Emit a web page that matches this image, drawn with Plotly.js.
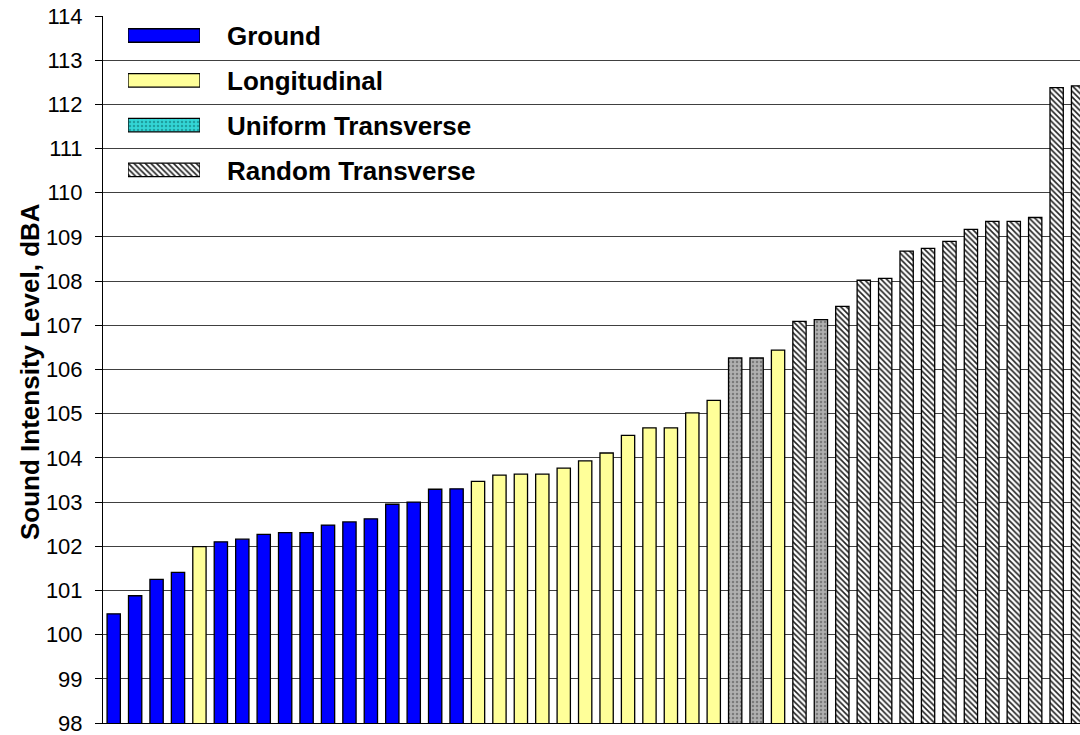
<!DOCTYPE html>
<html>
<head>
<meta charset="utf-8">
<script src="https://cdn.plot.ly/plotly-3.0.1.min.js"></script>
<style>
  html, body { margin: 0; padding: 0; background: #ffffff; }
  #chart { width: 1080px; height: 735px; }
</style>
</head>
<body>
<div id="chart"></div>
<script>
// ---- data (sorted ascending) ----
const runIds = ["1","2","3","4","5","6","7","8","9","10","11","12","13","14","15","16",
  "17","18","19","20","21","22","23","24","25","26","27","28","29","30","31","32",
  "33","34","35","36","37","38","39","40","41","42","43","44","45","46"];
const levels = [100.47, 100.88, 101.25, 101.41, 101.99, 102.10, 102.16, 102.27, 102.31, 102.31,
  102.48, 102.55, 102.62, 102.95, 103.00, 103.29, 103.30, 103.47, 103.61, 103.63,
  103.63, 103.77, 103.93, 104.11, 104.51, 104.68, 104.68, 105.02, 105.30, 106.26,
  106.26, 106.44, 107.09, 107.13, 107.43, 108.02, 108.06, 108.68, 108.74, 108.90,
  109.17, 109.35, 109.35, 109.44, 112.38, 112.42];
const configs = ["G","G","G","G","L","G","G","G","G","G","G","G","G","G","G","G",
  "G","L","L","L","L","L","L","L","L","L","L","L","L","U","U","L",
  "R","U","R","R","R","R","R","R","R","R","R","R","R","R"];
const seriesKeys = ["G", "L", "U", "R"];
const seriesNames = ["Ground", "Longitudinal", "Uniform Transverse", "Random Transverse"];
const yTicks = [98, 99, 100, 101, 102, 103, 104, 105, 106, 107, 108, 109, 110, 111, 112, 113, 114];
const yTitle = "Sound Intensity Level, dBA";
const legendRank = [0, 1, 2, 3];
const legendLen = [1, 1, 1, 1];

// ---- styles ----
const FONT = "Liberation Sans, Arial, Helvetica, sans-serif";
const barStyles = {
  G: { color: "#0000ff" },
  L: { color: "#ffff99" },
  U: { color: "#a6a6a6", pattern: { shape: ".", fgcolor: "#7a7a7a", bgcolor: "#b0b0b0", size: 4, solidity: 0.3 } },
  R: { color: "#ffffff", pattern: { shape: "\\", fgcolor: "#222222", bgcolor: "#ffffff", size: 4, solidity: 0.4 } }
};
const legendStyles = {
  G: barStyles.G,
  L: barStyles.L,
  U: { color: "#33cccc", pattern: { shape: ".", fgcolor: "#1f9f9f", bgcolor: "#33d6d6", size: 4, solidity: 0.3 } },
  R: barStyles.R
};

// ---- geometry (pixels) ----
const W = 1080, H = 735;
const mL = 103, mR = 0, mT = 16, mB = 12;
const plotW = W - mL - mR, plotH = H - mT - mB;
const px2x = p => (p - mL) / plotW;
const py2y = p => (H - mB - p) / plotH;

// ---- main bars ----
const traces = seriesKeys.map((k, si) => {
  const xs = [], ys = [];
  configs.forEach((c, i) => { if (c === k) { xs.push(runIds[i]); ys.push(levels[i]); } });
  const st = barStyles[k];
  const marker = { color: st.color, line: { color: "#000000", width: 1.3 } };
  if (st.pattern) marker.pattern = st.pattern;
  return {
    type: "bar", name: seriesNames[si], x: xs, y: ys, width: 0.62,
    marker: marker, showlegend: false, hoverinfo: "x+y",
    xaxis: "x", yaxis: "y"
  };
});

// ---- legend swatches drawn as bars on an overlay subplot ----
const rowTop = 35.5, rowStep = 44.8;                // pixel centre of first row, spacing
const legDomPix = [16, 230];                          // pixel top / bottom of legend subplot
const legRange = [(legDomPix[1] - rowTop) / rowStep, (legDomPix[0] - rowTop) / rowStep];
seriesKeys.forEach((k, si) => {
  const st = legendStyles[k];
  const marker = { color: st.color, line: { color: "#000000", width: 1.3 } };
  if (st.pattern) marker.pattern = st.pattern;
  traces.push({
    type: "bar", orientation: "h", x: [legendLen[si]], y: [legendRank[si]], width: 13.5 / rowStep,
    marker: marker, showlegend: false, hoverinfo: "skip", xaxis: "x2", yaxis: "y2"
  });
});

const annotations = seriesNames.map((nm, si) => ({
  text: "<b>" + nm + "</b>", xref: "paper", yref: "paper",
  x: px2x(225), y: py2y(rowTop + rowStep * legendRank[si] + 1),
  xanchor: "left", yanchor: "middle", showarrow: false,
  font: { family: FONT, size: 26, color: "#000000" }
}));
annotations.push({
  text: "<b>" + yTitle + "</b>", xref: "paper", yref: "paper",
  x: px2x(30), y: py2y(372), xanchor: "center", yanchor: "middle",
  textangle: -90, showarrow: false,
  font: { family: FONT, size: 26, color: "#000000" }
});

const layout = {
  width: W, height: H,
  margin: { l: mL, r: mR, t: mT, b: mB, pad: 0 },
  paper_bgcolor: "#ffffff", plot_bgcolor: "rgba(0,0,0,0)",
  barmode: "overlay",
  showlegend: false,
  font: { family: FONT, color: "#000000" },
  xaxis: {
    type: "category", categoryorder: "array", categoryarray: runIds,
    range: [-0.5, -0.5 + plotW / 21.43],
    showticklabels: false, ticks: "", showgrid: false, zeroline: false,
    showline: true, linecolor: "#000000", linewidth: 1, fixedrange: true
  },
  yaxis: {
    range: [98, 114], tickvals: yTicks, ticktext: yTicks.map(String),
    ticks: "outside", ticklen: 7, tickcolor: "#000000", tickwidth: 1,
    ticklabelstandoff: 8, ticklabeloverflow: "allow",
    tickfont: { family: FONT, size: 22, color: "#000000" },
    showgrid: true, gridcolor: "#404040", gridwidth: 1, zeroline: false,
    showline: true, linecolor: "#000000", linewidth: 1,
    fixedrange: true
  },
  xaxis2: {
    domain: [px2x(128), px2x(200)], range: [0, 1], anchor: "y2",
    visible: false, showgrid: false, zeroline: false, fixedrange: true
  },
  yaxis2: {
    domain: [py2y(legDomPix[1]), py2y(legDomPix[0])], range: legRange, anchor: "x2",
    visible: false, showgrid: false, zeroline: false, fixedrange: true
  },
  annotations: annotations
};

Plotly.newPlot("chart", traces, layout, { displayModeBar: false, staticPlot: true });
</script>
</body>
</html>
